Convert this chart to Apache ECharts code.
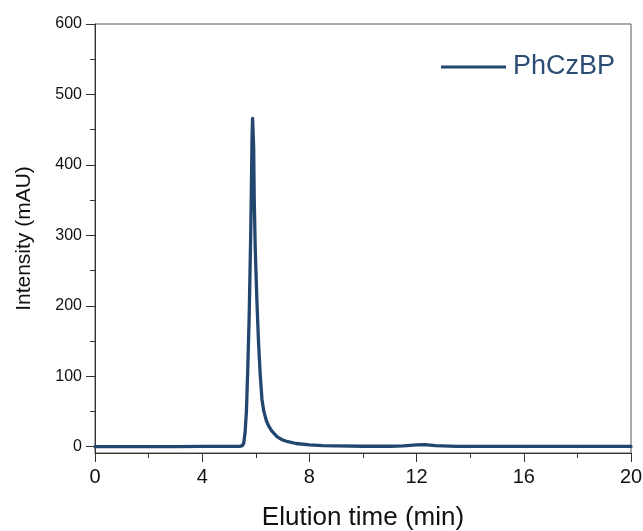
<!DOCTYPE html>
<html>
<head>
<meta charset="utf-8">
<script src="https://cdn.jsdelivr.net/npm/echarts@6/dist/echarts.min.js"></script>
<style>
html,body{margin:0;padding:0;background:#fff;}
#chart{width:643px;height:531px;}
</style>
</head>
<body>
<div id="chart"></div>
<script>
var seriesName = 'PhCzBP';
var elutionTime = [0, 1, 2, 3, 4, 5, 5.4, 5.5, 5.55, 5.6, 5.65, 5.7, 5.75, 5.8, 5.83, 5.86, 5.88, 5.9, 5.92, 5.94, 5.98, 6.04, 6.1, 6.16, 6.23, 6.3, 6.4, 6.5, 6.6, 6.8, 7.0, 7.2, 7.5, 8, 8.5, 9, 10, 11, 11.5, 12, 12.3, 12.7, 13.5, 15, 17, 20];
var intensity   = [0, 0, 0, 0, 0.3, 0.3, 0.5, 1.5, 5, 20, 50, 110, 180, 280, 350, 440, 466, 464, 425, 355, 280, 208, 150, 105, 67, 50, 36, 28, 22, 14, 9.5, 7, 4.5, 2.5, 1.5, 1, 0.6, 0.6, 1, 2.5, 2.8, 1.5, 0.5, 0.4, 0.3, 0.3];
var xTicks = [0, 4, 8, 12, 16, 20];
var yMajorTicks = [0, 100, 200, 300, 400, 500, 600];
var yMinorTicks = [50, 150, 250, 350, 450, 550];

var data = elutionTime.map(function (t, i) { return [t, intensity[i]]; });
var lineColor = '#22466e';
var axisColor = '#333';
var font = 'Liberation Sans, Arial, sans-serif';

var chart = echarts.init(document.getElementById('chart'), null, {renderer: 'canvas'});
chart.setOption({
  animation: false,
  backgroundColor: '#fff',
  grid: {left: 95, right: 12, top: 24, bottom: 78, containLabel: false, outerBoundsMode: 'none',
         show: true, borderColor: '#555', borderWidth: 1},
  legend: {
    data: [seriesName], left: 436, top: 47, icon: 'rect', itemWidth: 65, itemHeight: 3, itemGap: 0,
    textStyle: {fontSize: 27, fontFamily: font, color: '#2b4d74', padding: [0, 0, 0, 2], lineHeight: 30}
  },
  xAxis: {
    type: 'value', min: xTicks[0], max: xTicks[xTicks.length - 1], interval: 4,
    name: 'Elution time (min)', nameLocation: 'middle', nameGap: 52,
    nameTextStyle: {fontSize: 26, fontFamily: font, color: '#111'},
    axisLine: {show: true, onZero: false, lineStyle: {color: axisColor, width: 1}},
    axisTick: {show: true, inside: false, length: 9, lineStyle: {color: axisColor}},
    minorTick: {show: true, splitNumber: 2, length: 5, lineStyle: {color: axisColor}},
    axisLabel: {fontSize: 20, fontFamily: font, color: '#111', margin: 14},
    splitLine: {show: false}, minorSplitLine: {show: false}
  },
  yAxis: [{
    type: 'value', min: -9, max: 600,
    name: 'Intensity (mAU)', nameLocation: 'middle', nameGap: 60,
    nameTextStyle: {fontSize: 21, fontFamily: font, color: '#111'},
    axisLine: {show: true, onZero: false, lineStyle: {color: axisColor, width: 1}},
    axisTick: {show: true, inside: false, length: 9, customValues: yMajorTicks, lineStyle: {color: axisColor}},
    axisLabel: {fontSize: 16, fontFamily: font, color: '#111', margin: 13, customValues: yMajorTicks},
    splitLine: {show: false}
  }, {
    type: 'value', min: -9, max: 600, position: 'left',
    axisLine: {show: false},
    axisTick: {show: true, inside: false, length: 5, customValues: yMinorTicks, lineStyle: {color: axisColor}},
    axisLabel: {show: false},
    splitLine: {show: false}
  }],
  series: [{
    name: seriesName, type: 'line', data: data, yAxisIndex: 0,
    showSymbol: false, symbol: 'none', smooth: false,
    lineStyle: {color: lineColor, width: 3.3, join: 'round', cap: 'round'},
    itemStyle: {color: lineColor}
  }]
});
</script>
</body>
</html>
